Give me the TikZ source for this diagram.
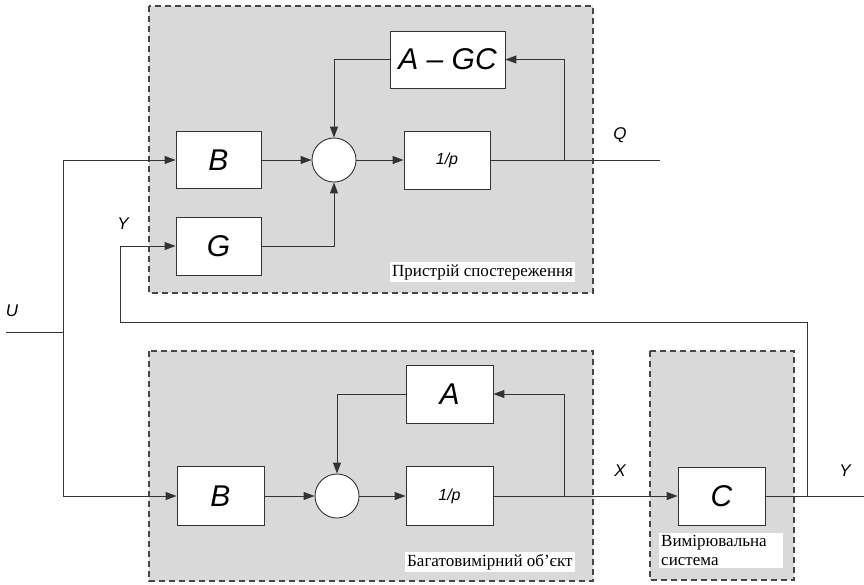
\documentclass[tikz,border=0pt]{standalone}
\usepackage{fontspec}
\setmainfont{Liberation Serif}
\newfontfamily\arialfont{Liberation Sans}
\usetikzlibrary{arrows.meta}
\definecolor{grp}{HTML}{D9D9D9}
\definecolor{ln}{HTML}{333333}
\begin{document}
\begin{tikzpicture}[x=1pt,y=-1pt,
  groupbox/.style={draw=ln!90, fill=grp, line width=1.3pt, dash pattern=on 6pt off 4pt},
  blockbox/.style={draw=ln, fill=white, line width=0.9pt, inner sep=0pt,
    font=\arialfont\itshape\fontsize{30}{30}\selectfont},
  smallblock/.style={blockbox, font=\arialfont\itshape\fontsize{16}{16}\selectfont},
  sumnode/.style={circle, draw=ln, fill=white, line width=0.9pt, minimum size=44pt, inner sep=0pt},
  conn/.style={draw=ln, line width=1pt},
  arr/.style={conn, -{Triangle[length=11pt,width=8pt]}},
  sig/.style={font=\arialfont\itshape\fontsize{17}{17}\selectfont, inner sep=0pt},
  capbox/.style={fill=white, inner sep=2pt, font=\fontsize{17}{19.5}\selectfont, align=left}
]
\useasboundingbox (0,0) rectangle (864,584);
% group backgrounds
\draw[groupbox] (149,6) rectangle (593,293);
\draw[groupbox] (149,351) rectangle (593,581);
\draw[groupbox] (650,351) rectangle (794,580);

% top: observer
\node[blockbox, minimum width=115pt, minimum height=57pt] (agc) at (447.5,59.5) {A – GC};
\node[blockbox, minimum width=85pt, minimum height=57pt] (bT) at (218.5,160) {B};
\node[blockbox, minimum width=85pt, minimum height=58pt] (gT) at (218.5,246) {G};
\node[sumnode] (sT) at (334,160) {};
\node[smallblock, minimum width=86pt, minimum height=58pt] (pT) at (447,160) {1/p};
\coordinate (brT) at (564,160);
\coordinate (qend) at (660,160);

% bottom: plant
\node[blockbox, minimum width=87pt, minimum height=58pt] (aB) at (449.5,394) {A};
\node[blockbox, minimum width=87pt, minimum height=59pt] (bB) at (220.5,496) {B};
\node[sumnode] (sB) at (337,496) {};
\node[smallblock, minimum width=87pt, minimum height=59pt] (pB) at (449.5,496) {1/p};
\coordinate (brB) at (564,496);

% measurement
\node[blockbox, minimum width=87pt, minimum height=58pt] (cM) at (721.5,496) {C};
\coordinate (ybr) at (807,496);
\coordinate (yend) at (864,496);
\coordinate (yfb1) at (807,322);
\coordinate (yfb2) at (120,322);

% input
\coordinate (uin) at (6,332);
\coordinate (usplit) at (63,332);

% connectors
\draw[conn] (uin) -- (usplit);
\draw[arr] (usplit) |- (bT.west);
\draw[arr] (usplit) |- (bB.west);

\draw[arr] (bT) -- (sT);
\draw[arr] (sT) -- (pT);
\draw[conn] (pT.east) -- (qend);
\draw[arr] (brT) |- (agc.east);
\draw[arr] (agc.west) -| (sT.north);
\draw[arr] (gT.east) -| (sT.south);

\draw[arr] (bB) -- (sB);
\draw[arr] (sB) -- (pB);
\draw[arr] (pB.east) -- (cM.west);
\draw[arr] (brB) |- (aB.east);
\draw[arr] (aB.west) -| (sB.north);

\draw[conn] (cM.east) -- (yend);
\draw[arr] (ybr) -- (yfb1) -- (yfb2) |- (gT.west);

% signal labels
\node[sig] (lU) at (12,311) {U};
\node[sig] (lYin) at (123,224) {Y};
\node[sig] (lQ) at (620,135) {Q};
\node[sig] (lX) at (620,471) {X};
\node[sig] (lY) at (845,471) {Y};

% captions
\node[capbox, anchor=west] (capT) at (390,272) {Пристрій спостереження};
\node[capbox, anchor=west] (capB) at (405,562) {Багатовимірний об'єкт};
\node[capbox, anchor=north west, text width=120pt] (capM) at (659,533) {Вимірювальна\\система};
\end{tikzpicture}
\end{document}
